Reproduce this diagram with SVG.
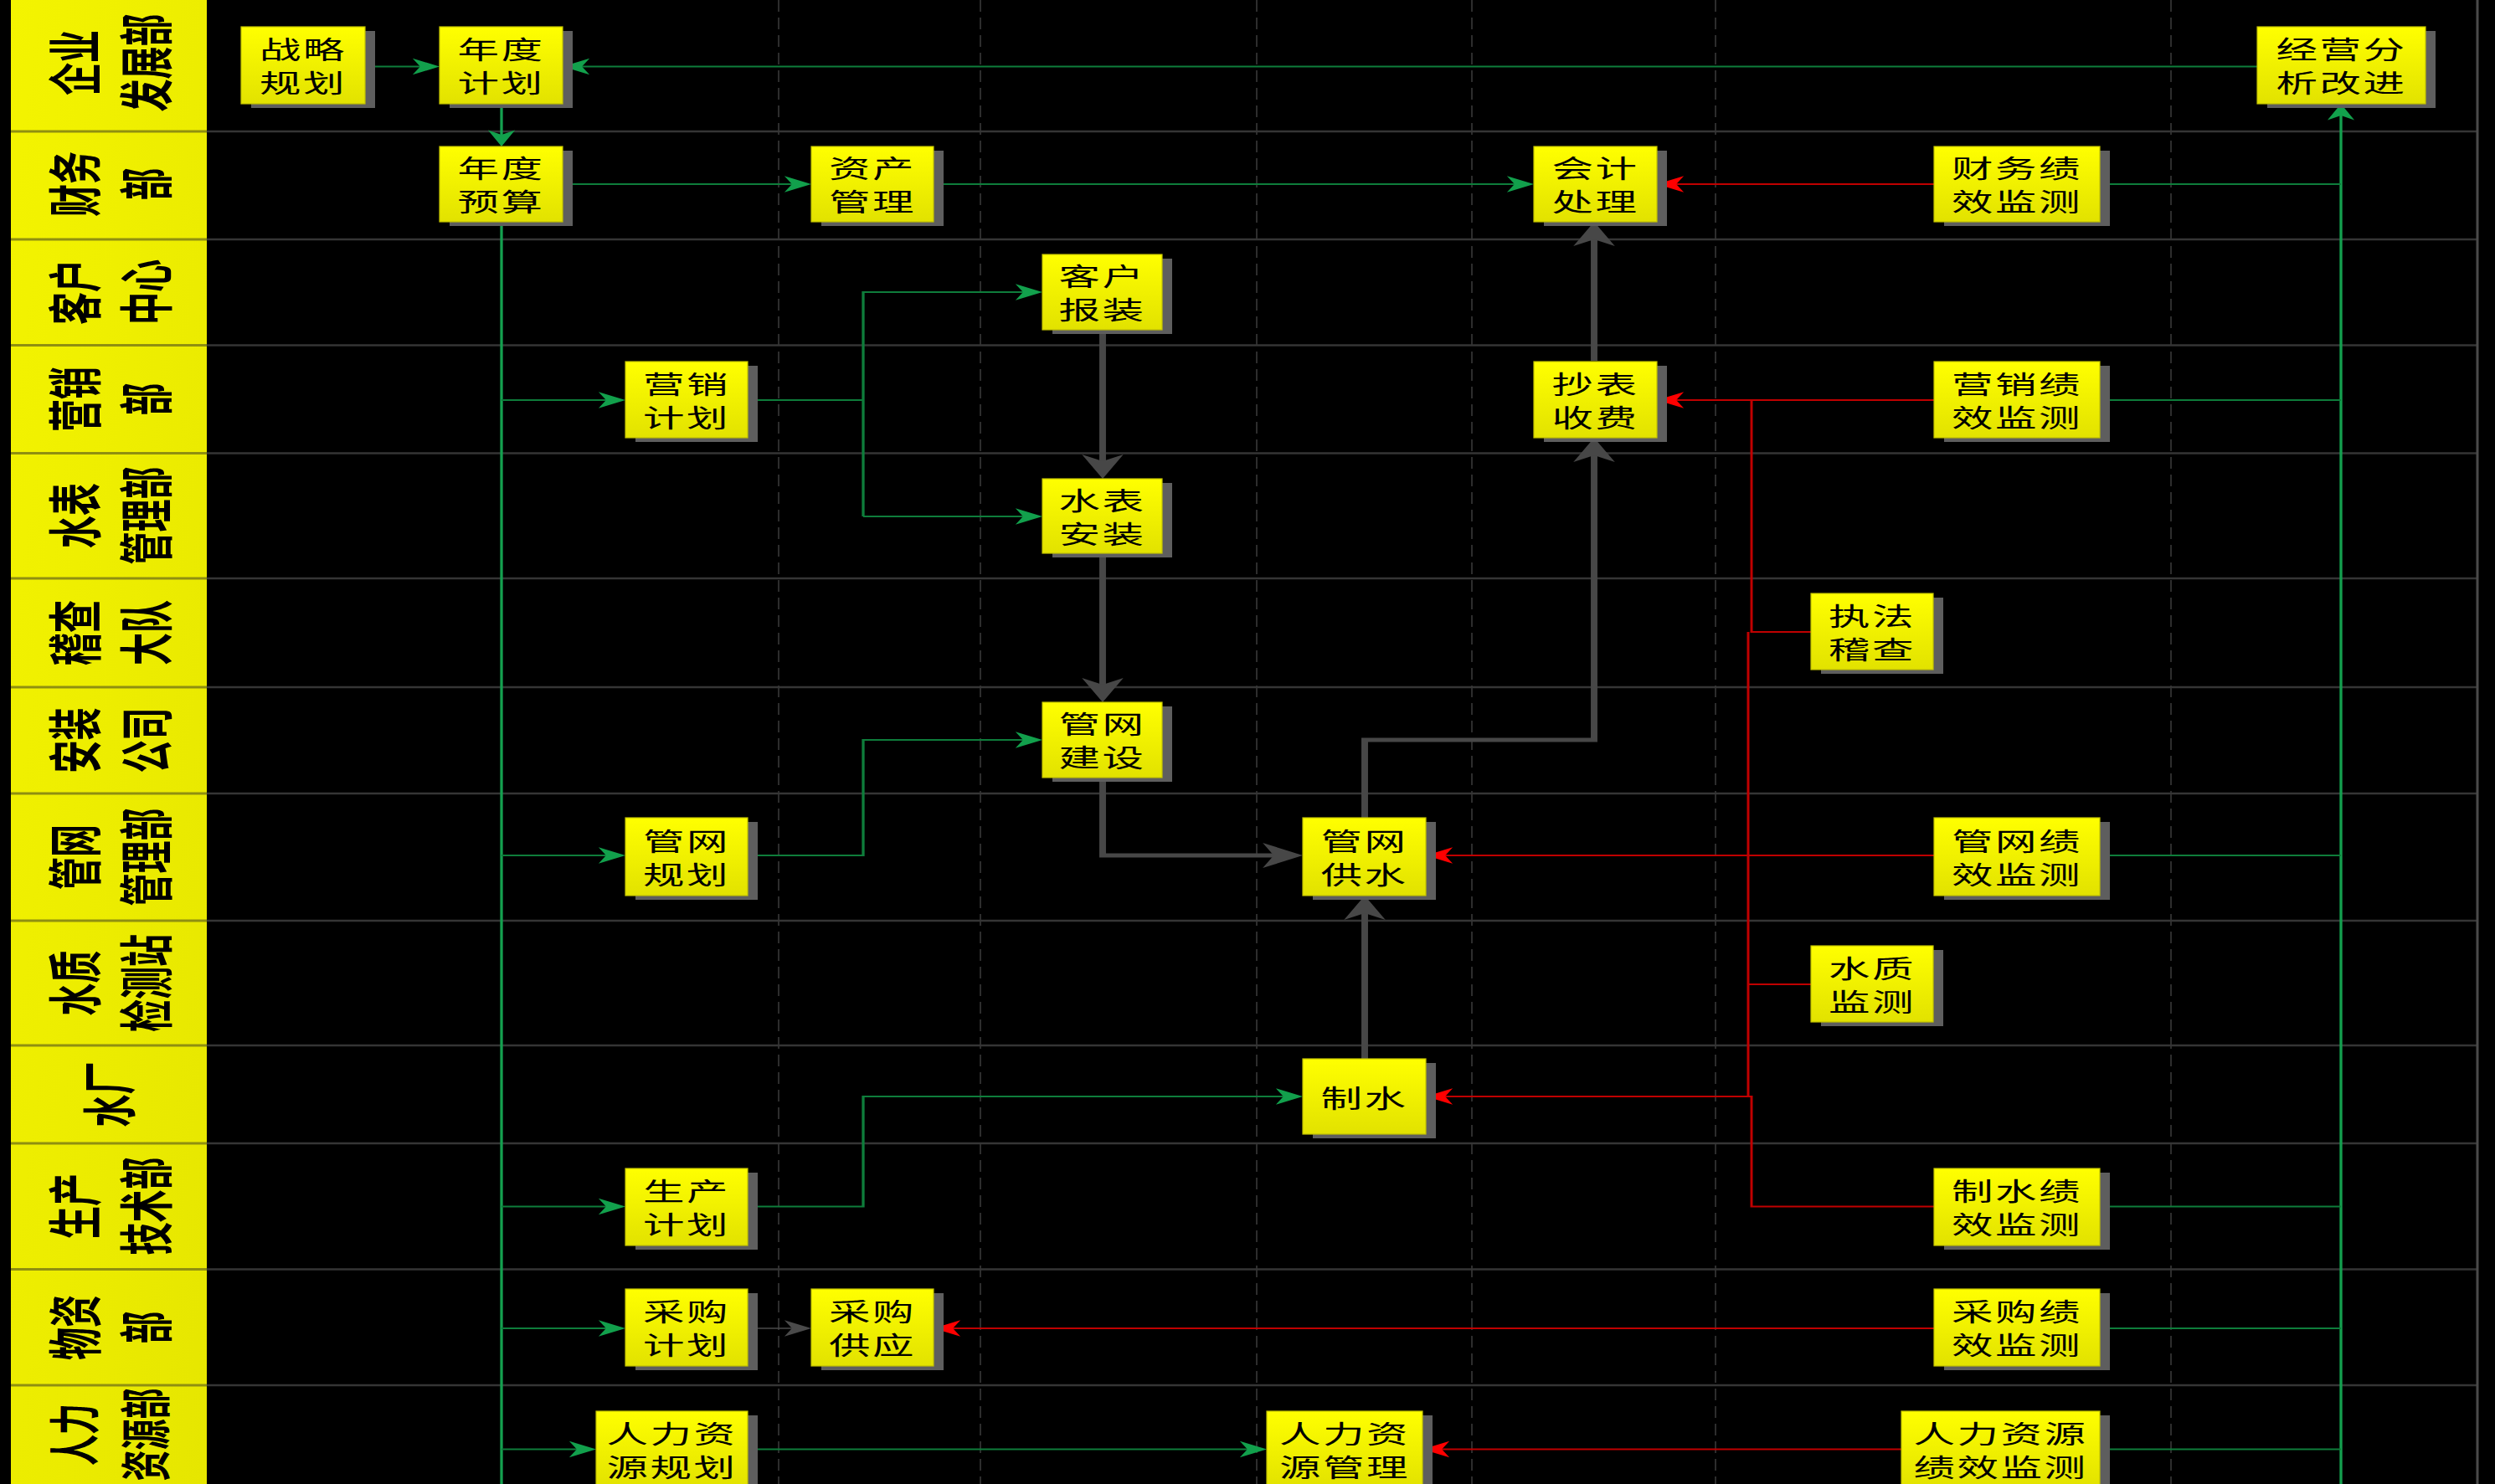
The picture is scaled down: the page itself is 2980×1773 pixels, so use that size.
<svg xmlns="http://www.w3.org/2000/svg" width="2980" height="1773" viewBox="0 0 2980 1773">
<defs>
<linearGradient id="gNode" x1="0" y1="0" x2="0" y2="1"><stop offset="0" stop-color="#ffff00"/><stop offset="1" stop-color="#e2e200"/></linearGradient>
<linearGradient id="gLane" x1="0" y1="0" x2="1" y2="1"><stop offset="0" stop-color="#f4f400"/><stop offset="1" stop-color="#e6e600"/></linearGradient>
<marker id="aG" markerUnits="userSpaceOnUse" orient="auto" overflow="visible" markerWidth="40" markerHeight="40" refX="0" refY="0"><path d="M10,0 L-9.5,-9.75 L-4,0 L-9.5,9.75 Z" fill="#12a04c"/></marker>
<marker id="aR" markerUnits="userSpaceOnUse" orient="auto" overflow="visible" markerWidth="40" markerHeight="40" refX="0" refY="0"><path d="M10,0 L-9.5,-9.75 L-4,0 L-9.5,9.75 Z" fill="#ff0000"/></marker>
<marker id="aK" markerUnits="userSpaceOnUse" orient="auto" overflow="visible" markerWidth="40" markerHeight="40" refX="0" refY="0"><path d="M17,0 L-12,-15 L-4,0 L-12,15 Z" fill="#474747"/></marker>
<marker id="aKs" markerUnits="userSpaceOnUse" orient="auto" overflow="visible" markerWidth="40" markerHeight="40" refX="0" refY="0"><path d="M10,0 L-9.5,-9.75 L-4,0 L-9.5,9.75 Z" fill="#4a4a4a"/></marker>
</defs>
<style>
.sh{fill:#5e5e5e}
.bx{fill:url(#gNode);stroke:#c4c400;stroke-width:1.2}
.nt{font-family:"Noto Sans CJK SC","Noto Sans CJK JP",sans-serif;font-size:30px;letter-spacing:1.5px;fill:#000;text-anchor:middle;dominant-baseline:central}
.lt{font-family:"Noto Sans CJK SC","Noto Sans CJK JP",sans-serif;font-size:39px;font-weight:bold;fill:#000;text-anchor:middle;dominant-baseline:central}
.lane{stroke:#353535;stroke-width:2.5;fill:none}
.lanel{stroke:#8f8f10;stroke-width:3;fill:none}
.dash{stroke:#3c3c3c;stroke-width:1.5;stroke-dasharray:14 7;fill:none}
.cg{fill:none;stroke:#0e7d3b;stroke-width:2}
.cgv{fill:none;stroke:#14a04f;stroke-width:2}
.ck{fill:none;stroke:#474747;stroke-width:4.8}
.cks{fill:none;stroke:#4a4a4a;stroke-width:1.6}
.cr{fill:none;stroke:#c00000;stroke-width:1.8}
</style>
<rect x="0" y="0" width="2980" height="1773" fill="#000"/>
<g id="grid">
<path class="dash" d="M930,0 V1773 M1171,0 V1773 M1501,0 V1773 M1758,0 V1773 M2049,0 V1773 M2593,0 V1773"/>
<path class="lane" d="M247,157 H2959 M247,286 H2959 M247,412.5 H2959 M247,541.5 H2959 M247,691 H2959 M247,821 H2959 M247,948 H2959 M247,1100 H2959 M247,1249 H2959 M247,1366 H2959 M247,1516.5 H2959 M247,1655 H2959"/>
<path d="M2959,0 V1773" stroke="#4a4a4a" stroke-width="3"/>
</g>
<g id="lanes">
<rect x="13" y="0" width="234" height="1773" fill="url(#gLane)"/>
<path class="lanel" d="M13,157 H247 M13,286 H247 M13,412.5 H247 M13,541.5 H247 M13,691 H247 M13,821 H247 M13,948 H247 M13,1100 H247 M13,1249 H247 M13,1366 H247 M13,1516.5 H247 M13,1655 H247"/>
<text class="lt" transform="translate(127.5,75) scale(1.65,1) rotate(-90)"><tspan x="0" y="-25.8">企业</tspan><tspan x="0" y="25.8">发展部</tspan></text>
<text class="lt" transform="translate(127.5,220) scale(1.65,1) rotate(-90)"><tspan x="0" y="-25.8">财务</tspan><tspan x="0" y="25.8">部</tspan></text>
<text class="lt" transform="translate(127.5,349) scale(1.65,1) rotate(-90)"><tspan x="0" y="-25.8">客户</tspan><tspan x="0" y="25.8">中心</tspan></text>
<text class="lt" transform="translate(127.5,477) scale(1.65,1) rotate(-90)"><tspan x="0" y="-25.8">营销</tspan><tspan x="0" y="25.8">部</tspan></text>
<text class="lt" transform="translate(127.5,616) scale(1.65,1) rotate(-90)"><tspan x="0" y="-25.8">水表</tspan><tspan x="0" y="25.8">管理部</tspan></text>
<text class="lt" transform="translate(127.5,756) scale(1.65,1) rotate(-90)"><tspan x="0" y="-25.8">稽查</tspan><tspan x="0" y="25.8">大队</tspan></text>
<text class="lt" transform="translate(127.5,884.5) scale(1.65,1) rotate(-90)"><tspan x="0" y="-25.8">安装</tspan><tspan x="0" y="25.8">公司</tspan></text>
<text class="lt" transform="translate(127.5,1024) scale(1.65,1) rotate(-90)"><tspan x="0" y="-25.8">管网</tspan><tspan x="0" y="25.8">管理部</tspan></text>
<text class="lt" transform="translate(127.5,1174.5) scale(1.65,1) rotate(-90)"><tspan x="0" y="-25.8">水质</tspan><tspan x="0" y="25.8">检测站</tspan></text>
<text class="lt" transform="translate(126,1307.5) scale(1.65,1) rotate(-90)"><tspan x="0" y="0">水厂</tspan></text>
<text class="lt" transform="translate(127.5,1441) scale(1.65,1) rotate(-90)"><tspan x="0" y="-25.8">生产</tspan><tspan x="0" y="25.8">技术部</tspan></text>
<text class="lt" transform="translate(127.5,1586) scale(1.65,1) rotate(-90)"><tspan x="0" y="-25.8">物资</tspan><tspan x="0" y="25.8">部</tspan></text>
<text class="lt" style="font-size:37px" transform="translate(127.5,1714) scale(1.65,1) rotate(-90)"><tspan x="0" y="-25.8">人力</tspan><tspan x="0" y="25.8">资源部</tspan></text>
</g>
<g id="connectors" transform="scale(1.65,1)">
<path class="cg" d="M264.24,79.5 H308.18" marker-end="url(#aG)"/>
<path class="cg" d="M1633.94,79.5 H417.27" marker-end="url(#aG)"/>
<path class="cgv" d="M363.03,124 V165" marker-end="url(#aG)"/>
<path class="cg" d="M407.27,220 H577.27" marker-end="url(#aG)"/>
<path class="cg" d="M675.76,220 H1100.3" marker-end="url(#aG)"/>
<path class="cgv" d="M363.03,265 V1773"/>
<path class="cg" d="M363.03,478 H442.73" marker-end="url(#aG)"/>
<path class="cg" d="M363.03,1022 H442.73" marker-end="url(#aG)"/>
<path class="cg" d="M363.03,1441.5 H442.73" marker-end="url(#aG)"/>
<path class="cg" d="M363.03,1587 H442.73" marker-end="url(#aG)"/>
<path class="cg" d="M363.03,1731.5 H421.52" marker-end="url(#aG)"/>
<path class="cg" d="M541.21,478 H624.85"/>
<path class="cg" d="M624.85,617 V349 H744.55" marker-end="url(#aG)"/>
<path class="cg" d="M624.85,617 H744.55" marker-end="url(#aG)"/>
<path class="cg" d="M541.21,1022 H624.85 V884 H744.55" marker-end="url(#aG)"/>
<path class="cg" d="M541.21,1441.5 H624.85 V1310 H933.03" marker-end="url(#aG)"/>
<path class="cg" d="M541.21,1731.5 H906.97" marker-end="url(#aG)"/>
<path class="cgv" d="M1694.55,1773 V134" marker-end="url(#aG)"/>
<path class="cg" d="M1520,220 H1694.55 M1520,478 H1694.55 M1520,1022 H1694.55 M1520,1441.5 H1694.55 M1520,1587 H1694.55 M1520,1731.5 H1694.55"/>
<path class="ck" d="M798.18,394 V555" marker-end="url(#aK)"/>
<path class="ck" d="M798.18,661 V822" marker-end="url(#aK)"/>
<path class="ck" d="M798.18,929 V1022 H926.03" marker-end="url(#aK)"/>
<path class="ck" d="M987.88,977 V884 H1153.94 V540" marker-end="url(#aK)"/>
<path class="ck" d="M1153.94,431 V282" marker-end="url(#aK)"/>
<path class="ck" d="M987.88,1265 V1087" marker-end="url(#aK)"/>
<path class="cks" d="M541.21,1587 H577.27" marker-end="url(#aKs)"/>
<path class="cr" d="M1400,220 H1209.39" marker-end="url(#aR)"/>
<path class="cr" d="M1400,478 H1209.39" marker-end="url(#aR)"/>
<path class="cr" d="M1267.88,478 V755 H1310.91"/>
<path class="cr" d="M1400,1022 H1042.12" marker-end="url(#aR)"/>
<path class="cr" d="M1265.45,755 V1310"/>
<path class="cr" d="M1265.45,1176 H1310.91"/>
<path class="cr" d="M1400,1441.5 H1267.88 V1310 H1042.12" marker-end="url(#aR)"/>
<path class="cr" d="M1400,1587 H685.76" marker-end="url(#aR)"/>
<path class="cr" d="M1376.36,1731.5 H1039.7" marker-end="url(#aR)"/>
</g>
<g id="n-zlgh"><rect class="sh" x="300" y="37" width="148" height="92"/><rect class="bx" x="288" y="32" width="148" height="92"/><text class="nt" transform="translate(362,78) scale(1.65,1)"><tspan x="0" y="-21">战略</tspan><tspan x="0" y="19">规划</tspan></text></g>
<g id="n-ndjh"><rect class="sh" x="537" y="37" width="147" height="92"/><rect class="bx" x="525" y="32" width="147" height="92"/><text class="nt" transform="translate(598.5,78) scale(1.65,1)"><tspan x="0" y="-21">年度</tspan><tspan x="0" y="19">计划</tspan></text></g>
<g id="n-jyfx"><rect class="sh" x="2708" y="37" width="201" height="92"/><rect class="bx" x="2696" y="32" width="201" height="92"/><text class="nt" transform="translate(2796.5,78) scale(1.65,1)"><tspan x="0" y="-21">经营分</tspan><tspan x="0" y="19">析改进</tspan></text></g>
<g id="n-ndys"><rect class="sh" x="537" y="180" width="147" height="90"/><rect class="bx" x="525" y="175" width="147" height="90"/><text class="nt" transform="translate(598.5,220) scale(1.65,1)"><tspan x="0" y="-21">年度</tspan><tspan x="0" y="19">预算</tspan></text></g>
<g id="n-zcgl"><rect class="sh" x="981" y="180" width="146" height="90"/><rect class="bx" x="969" y="175" width="146" height="90"/><text class="nt" transform="translate(1042,220) scale(1.65,1)"><tspan x="0" y="-21">资产</tspan><tspan x="0" y="19">管理</tspan></text></g>
<g id="n-kjcl"><rect class="sh" x="1844" y="180" width="147" height="90"/><rect class="bx" x="1832" y="175" width="147" height="90"/><text class="nt" transform="translate(1905.5,220) scale(1.65,1)"><tspan x="0" y="-21">会计</tspan><tspan x="0" y="19">处理</tspan></text></g>
<g id="n-cwjx"><rect class="sh" x="2322" y="180" width="198" height="90"/><rect class="bx" x="2310" y="175" width="198" height="90"/><text class="nt" transform="translate(2409,220) scale(1.65,1)"><tspan x="0" y="-21">财务绩</tspan><tspan x="0" y="19">效监测</tspan></text></g>
<g id="n-khbz"><rect class="sh" x="1257" y="309" width="143" height="90"/><rect class="bx" x="1245" y="304" width="143" height="90"/><text class="nt" transform="translate(1316.5,349) scale(1.65,1)"><tspan x="0" y="-21">客户</tspan><tspan x="0" y="19">报装</tspan></text></g>
<g id="n-yxjh"><rect class="sh" x="759" y="437" width="146" height="91"/><rect class="bx" x="747" y="432" width="146" height="91"/><text class="nt" transform="translate(820,477.5) scale(1.65,1)"><tspan x="0" y="-21">营销</tspan><tspan x="0" y="19">计划</tspan></text></g>
<g id="n-cbsf"><rect class="sh" x="1844" y="437" width="147" height="91"/><rect class="bx" x="1832" y="432" width="147" height="91"/><text class="nt" transform="translate(1905.5,477.5) scale(1.65,1)"><tspan x="0" y="-21">抄表</tspan><tspan x="0" y="19">收费</tspan></text></g>
<g id="n-yxjx"><rect class="sh" x="2322" y="437" width="198" height="91"/><rect class="bx" x="2310" y="432" width="198" height="91"/><text class="nt" transform="translate(2409,477.5) scale(1.65,1)"><tspan x="0" y="-21">营销绩</tspan><tspan x="0" y="19">效监测</tspan></text></g>
<g id="n-sbaz"><rect class="sh" x="1257" y="577" width="143" height="89"/><rect class="bx" x="1245" y="572" width="143" height="89"/><text class="nt" transform="translate(1316.5,616.5) scale(1.65,1)"><tspan x="0" y="-21">水表</tspan><tspan x="0" y="19">安装</tspan></text></g>
<g id="n-zfjc"><rect class="sh" x="2175" y="714" width="146" height="91"/><rect class="bx" x="2163" y="709" width="146" height="91"/><text class="nt" transform="translate(2236,754.5) scale(1.65,1)"><tspan x="0" y="-21">执法</tspan><tspan x="0" y="19">稽查</tspan></text></g>
<g id="n-gwjs"><rect class="sh" x="1257" y="844" width="143" height="90"/><rect class="bx" x="1245" y="839" width="143" height="90"/><text class="nt" transform="translate(1316.5,884) scale(1.65,1)"><tspan x="0" y="-21">管网</tspan><tspan x="0" y="19">建设</tspan></text></g>
<g id="n-gwgh"><rect class="sh" x="759" y="982" width="146" height="93"/><rect class="bx" x="747" y="977" width="146" height="93"/><text class="nt" transform="translate(820,1023.5) scale(1.65,1)"><tspan x="0" y="-21">管网</tspan><tspan x="0" y="19">规划</tspan></text></g>
<g id="n-gwgs"><rect class="sh" x="1568" y="982" width="147" height="93"/><rect class="bx" x="1556" y="977" width="147" height="93"/><text class="nt" transform="translate(1629.5,1023.5) scale(1.65,1)"><tspan x="0" y="-21">管网</tspan><tspan x="0" y="19">供水</tspan></text></g>
<g id="n-gwjx"><rect class="sh" x="2322" y="982" width="198" height="93"/><rect class="bx" x="2310" y="977" width="198" height="93"/><text class="nt" transform="translate(2409,1023.5) scale(1.65,1)"><tspan x="0" y="-21">管网绩</tspan><tspan x="0" y="19">效监测</tspan></text></g>
<g id="n-szjc"><rect class="sh" x="2175" y="1135" width="146" height="91"/><rect class="bx" x="2163" y="1130" width="146" height="91"/><text class="nt" transform="translate(2236,1175.5) scale(1.65,1)"><tspan x="0" y="-21">水质</tspan><tspan x="0" y="19">监测</tspan></text></g>
<g id="n-zs"><rect class="sh" x="1568" y="1270" width="147" height="90"/><rect class="bx" x="1556" y="1265" width="147" height="90"/><text class="nt" transform="translate(1629.5,1310) scale(1.65,1)"><tspan x="0" y="0">制水</tspan></text></g>
<g id="n-scjh"><rect class="sh" x="759" y="1401" width="146" height="92"/><rect class="bx" x="747" y="1396" width="146" height="92"/><text class="nt" transform="translate(820,1442) scale(1.65,1)"><tspan x="0" y="-21">生产</tspan><tspan x="0" y="19">计划</tspan></text></g>
<g id="n-zsjx"><rect class="sh" x="2322" y="1401" width="198" height="92"/><rect class="bx" x="2310" y="1396" width="198" height="92"/><text class="nt" transform="translate(2409,1442) scale(1.65,1)"><tspan x="0" y="-21">制水绩</tspan><tspan x="0" y="19">效监测</tspan></text></g>
<g id="n-cgjh"><rect class="sh" x="759" y="1545" width="146" height="92"/><rect class="bx" x="747" y="1540" width="146" height="92"/><text class="nt" transform="translate(820,1586) scale(1.65,1)"><tspan x="0" y="-21">采购</tspan><tspan x="0" y="19">计划</tspan></text></g>
<g id="n-cggy"><rect class="sh" x="981" y="1545" width="146" height="92"/><rect class="bx" x="969" y="1540" width="146" height="92"/><text class="nt" transform="translate(1042,1586) scale(1.65,1)"><tspan x="0" y="-21">采购</tspan><tspan x="0" y="19">供应</tspan></text></g>
<g id="n-cgjx"><rect class="sh" x="2322" y="1545" width="198" height="92"/><rect class="bx" x="2310" y="1540" width="198" height="92"/><text class="nt" transform="translate(2409,1586) scale(1.65,1)"><tspan x="0" y="-21">采购绩</tspan><tspan x="0" y="19">效监测</tspan></text></g>
<g id="n-rlgh"><rect class="sh" x="724" y="1691" width="181" height="92"/><rect class="bx" x="712" y="1686" width="181" height="92"/><text class="nt" transform="translate(802.5,1732) scale(1.65,1)"><tspan x="0" y="-21">人力资</tspan><tspan x="0" y="19">源规划</tspan></text></g>
<g id="n-rlgl"><rect class="sh" x="1525" y="1691" width="186" height="92"/><rect class="bx" x="1513" y="1686" width="186" height="92"/><text class="nt" transform="translate(1606,1732) scale(1.65,1)"><tspan x="0" y="-21">人力资</tspan><tspan x="0" y="19">源管理</tspan></text></g>
<g id="n-rljx"><rect class="sh" x="2283" y="1691" width="237" height="92"/><rect class="bx" x="2271" y="1686" width="237" height="92"/><text class="nt" transform="translate(2389.5,1732) scale(1.65,1)"><tspan x="0" y="-21">人力资源</tspan><tspan x="0" y="19">绩效监测</tspan></text></g>
</svg>
